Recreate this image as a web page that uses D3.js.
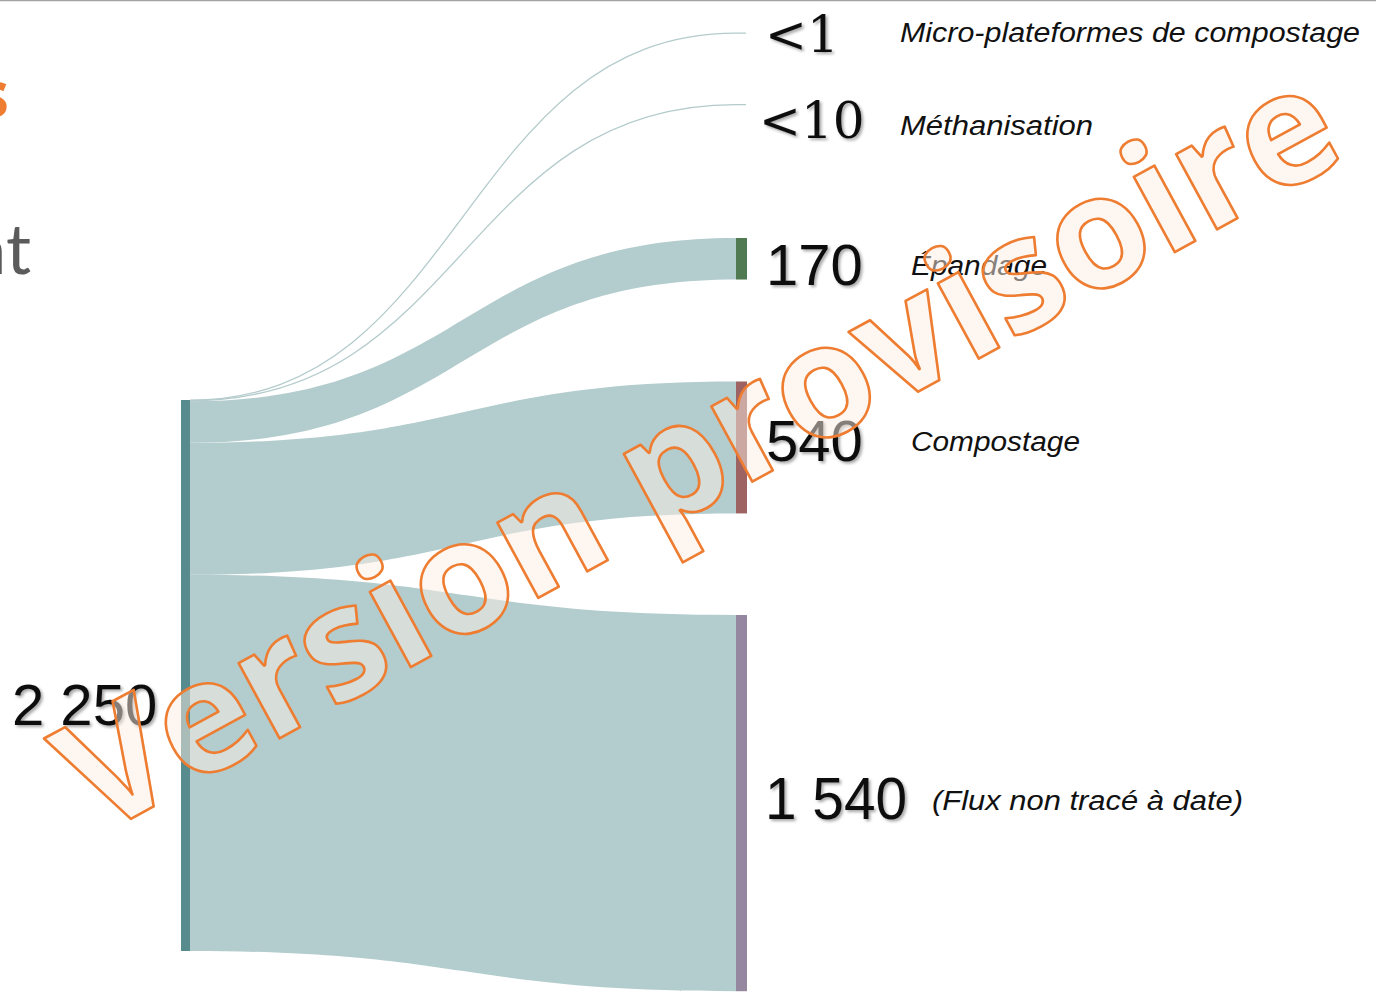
<!DOCTYPE html>
<html>
<head>
<meta charset="utf-8">
<script src="https://cdn.jsdelivr.net/npm/d3@7"></script>
<style>
  html, body { margin: 0; padding: 0; background: #fff; }
  svg { display: block; }
</style>
</head>
<body>
<svg id="chart" width="1384" height="995"></svg>
<script>
// ---------- DATA ----------
const sourceName = "Gisement";
const sourceLabel = "2 250";
const targets = ["Micro-plateformes de compostage", "Méthanisation", "Épandage", "Compostage", "(Flux non tracé à date)"];
const targetValues = [0.5, 5, 170, 540, 1540];
const targetValueLabels = ["<1", "<10", "170", "540", "1 540"];
const nodeColors = ["#9ab8b9", "#9ab8b9", "#527a52", "#9d6262", "#9687a0"];

// ---------- LAYOUT ----------
const W = 1384, H = 995;
const srcX0 = 181, srcX1 = 190, srcTop = 400, srcHeight = 551;
const tgtX0 = 736, tgtX1 = 747;
const targetTop = [33, 104, 238, 381.5, 615];   // node top positions (layout)
const numberStyle = [
  {x: 765, y: 52, font: "'DejaVu Serif', serif", size: 50, len: null},
  {x: 759, y: 138, font: "'DejaVu Serif', serif", size: 50, len: null},
  {x: 766, y: 285, font: "'Liberation Sans', Arial, sans-serif", size: 58, len: null},
  {x: 766, y: 461, font: "'Liberation Sans', Arial, sans-serif", size: 58, len: null},
  {x: 765, y: 819, font: "'Liberation Sans', Arial, sans-serif", size: 60, len: 142}
];
const labelStyle = [
  {x: 900, y: 42, len: 460},
  {x: 900, y: 135, len: 193},
  {x: 911, y: 275, len: 136},
  {x: 911, y: 451, len: 169},
  {x: 932, y: 810, len: 311}
];

const svg = d3.select("#chart");

// defs: text shadow
const defs = svg.append("defs");
const f = defs.append("filter").attr("id", "shadow").attr("x", "-10%").attr("y", "-10%").attr("width", "130%").attr("height", "140%");
f.append("feDropShadow").attr("dx", 2).attr("dy", 2).attr("stdDeviation", 1.4)
  .attr("flood-color", "#000").attr("flood-opacity", 0.35);

// top border line
svg.append("line").attr("x1", 0).attr("x2", 1376).attr("y1", 0.5).attr("y2", 0.5)
  .attr("stroke", "#a3a3a3").attr("stroke-width", 1.5);

// partial page title remnants on the left
svg.append("text").attr("x", 9).attr("y", 117).attr("text-anchor", "end")
  .attr("font-family", "'Open Sans', sans-serif").attr("font-weight", 700).attr("font-size", 64)
  .attr("fill", "#ee7d31").text("s");
svg.append("text").attr("x", 31).attr("y", 274).attr("text-anchor", "end")
  .attr("font-family", "Lato, 'Open Sans', sans-serif").attr("font-weight", 400).attr("font-size", 70)
  .attr("fill", "#5b5b5b").text("nt");

// ---------- SCALES ----------
const total = d3.sum(targetValues);
const h = d3.scaleLinear().domain([0, total]).range([0, srcHeight]);

// compute link geometry
let acc = 0;
const links = targetValues.map((v, i) => {
  const sy0 = srcTop + h(acc);
  acc += v;
  const sy1 = srcTop + h(acc);
  const ty0 = targetTop[i];
  const ty1 = ty0 + h(v);
  return {i, v, sy0, sy1, ty0, ty1, w: h(v)};
});

function ribbon(d) {
  const x0 = srcX1, x1 = tgtX0, xm = (x0 + x1) / 2;
  return `M${x0},${d.sy0}C${xm},${d.sy0} ${xm},${d.ty0} ${x1},${d.ty0}` +
         `L${x1},${d.ty1}C${xm},${d.ty1} ${xm},${d.sy1} ${x0},${d.sy1}Z`;
}
function centerLine(d) {
  const x0 = srcX1, x1 = tgtX0 + 10, xm = (srcX1 + tgtX0) / 2;
  const a = (d.sy0 + d.sy1) / 2, b = (d.ty0 + d.ty1) / 2;
  return `M${x0},${a}C${xm},${a} ${xm},${b} ${tgtX0},${b}L${x1},${b}`;
}

const linkG = svg.append("g");
links.forEach(d => {
  if (d.w < 2) {
    linkG.append("path").attr("d", centerLine(d)).attr("fill", "none")
      .attr("stroke", "#b4cbcc").attr("stroke-width", 1.3);
  } else {
    linkG.append("path").attr("d", ribbon(d)).attr("fill", "#b3cccd");
  }
});

// source node
svg.append("rect").attr("x", srcX0).attr("y", srcTop).attr("width", srcX1 - srcX0)
  .attr("height", h(total)).attr("fill", "#578b8d");

// target nodes
links.forEach(d => {
  if (d.w >= 2) {
    svg.append("rect").attr("x", tgtX0).attr("y", d.ty0).attr("width", tgtX1 - tgtX0)
      .attr("height", d.w).attr("fill", nodeColors[d.i]);
  }
});

// value labels
targetValueLabels.forEach((t, i) => {
  const s = numberStyle[i];
  const el = svg.append("text").attr("x", s.x).attr("y", s.y)
    .attr("font-family", s.font).attr("font-size", s.size).attr("fill", "#111")
    .attr("filter", "url(#shadow)").text(t);
  if (s.len) el.attr("textLength", s.len).attr("lengthAdjust", "spacingAndGlyphs");
});
svg.append("text").attr("x", 12).attr("y", 725)
  .attr("font-family", "'Liberation Sans', Arial, sans-serif").attr("font-size", 58)
  .attr("fill", "#111").attr("filter", "url(#shadow)").text(sourceLabel);

// category labels
targets.forEach((t, i) => {
  const s = labelStyle[i];
  svg.append("text").attr("x", s.x).attr("y", s.y)
    .attr("font-family", "'Liberation Sans', Arial, sans-serif").attr("font-style", "italic")
    .attr("font-size", 27).attr("fill", "#111")
    .attr("textLength", s.len).attr("lengthAdjust", "spacingAndGlyphs").text(t);
});

// watermark
svg.append("text")
  .attr("transform", "translate(724,497) rotate(-28.5)")
  .attr("text-anchor", "middle")
  .attr("font-family", "'Open Sans', sans-serif").attr("font-weight", 700).attr("font-size", 157)
  .attr("fill", "#fbeee4").attr("fill-opacity", 0.5)
  .attr("stroke", "#ee7d31").attr("stroke-width", 2.6).attr("stroke-linejoin", "round")
  .text("Version provisoire");
</script>
</body>
</html>
